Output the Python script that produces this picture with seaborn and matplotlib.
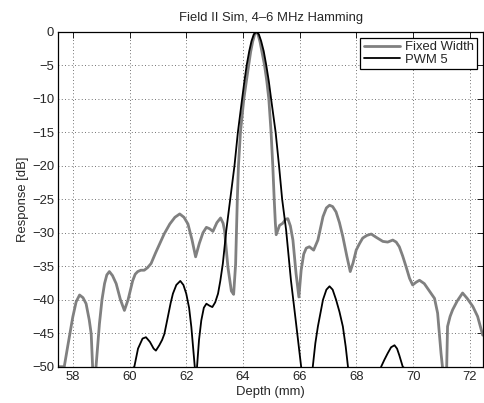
import numpy as np
import pandas as pd
import matplotlib
matplotlib.use("Agg")
import matplotlib.pyplot as plt
import seaborn as sns

# ---- data ----
fixed_depth = [57.50, 57.70, 57.82, 58.00, 58.12, 58.24, 58.36, 58.47, 58.58, 58.65, 58.70, 58.76, 58.82,
               58.94, 59.03, 59.12, 59.20, 59.29, 59.40, 59.53, 59.68, 59.82, 59.95, 60.11, 60.20,
               60.29, 60.40, 60.52, 60.64, 60.76, 60.92, 61.06, 61.22, 61.42, 61.60, 61.77, 61.92,
               62.06, 62.20, 62.33, 62.46, 62.59, 62.71, 62.82, 62.94, 63.08, 63.21, 63.30, 63.35,
               63.47, 63.59, 63.67, 63.74, 63.77, 63.80, 63.84, 63.91, 64.03, 64.12, 64.20, 64.27,
               64.34, 64.41, 64.47, 64.53, 64.60, 64.67, 64.76, 64.84, 64.91, 64.99, 65.05, 65.10,
               65.14, 65.17, 65.29, 65.40, 65.50, 65.58,
               65.67, 65.76, 65.87, 65.97, 66.05, 66.14, 66.23, 66.34, 66.49, 66.64, 66.82, 66.94,
               67.05, 67.16, 67.28, 67.40, 67.52, 67.66, 67.78, 67.88, 67.99, 68.11, 68.22, 68.37,
               68.52, 68.70, 68.93, 69.10, 69.28, 69.40, 69.51, 69.63, 69.75, 69.87, 69.98, 70.10,
               70.22, 70.39, 70.57, 70.75, 70.86, 70.98, 71.03, 71.10, 71.18, 71.21, 71.30, 71.39,
               71.55, 71.74, 71.90, 72.10, 72.27, 72.45]
fixed_db = [-50, -50, -47.0, -42.6, -40.3, -39.3, -39.7, -40.6, -43.0, -45.1, -50, -56, -50,
            -43.6, -40.0, -37.6, -36.3, -35.8, -36.4, -37.6, -40.0, -41.6, -40.0, -37.2, -36.2,
            -35.8, -35.6, -35.6, -35.2, -34.6, -33.0, -31.7, -30.2, -28.7, -27.7, -27.2, -27.7,
            -28.7, -31.0, -33.6, -31.6, -30.0, -29.2, -29.4, -29.8, -28.5, -27.8, -28.6, -29.7,
            -35.2, -38.7, -39.2, -34.7, -30.0, -25.0, -20.0, -15.0, -10.0, -7.3, -5.0, -3.0,
            -1.5, -0.4, 0.0, -0.4, -1.5, -3.0, -5.0, -7.4, -10.0, -15.0, -20.0, -25.0,
            -28.5, -30.3, -28.9, -28.6, -28.0, -27.9,
            -29.0, -31.1, -36.1, -39.6, -35.6, -33.2, -32.3, -32.1, -32.6, -31.1, -27.6, -26.3,
            -25.9, -26.1, -26.9, -28.5, -30.6, -33.5, -35.8, -34.5, -32.6, -31.6, -30.8, -30.4,
            -30.2, -30.7, -31.3, -31.4, -31.1, -31.4, -32.1, -33.5, -35.1, -36.8, -37.8, -37.4,
            -37.1, -37.6, -38.7, -39.8, -42.0, -48.0, -50, -56, -50, -44.0, -42.5, -41.5,
            -40.2, -39.0, -39.8, -41.0, -42.5, -45.3]

pwm_depth = [57.50, 60.17, 60.30, 60.46, 60.58, 60.72, 60.85, 60.93, 61.05, 61.15, 61.23, 61.35,
             61.45, 61.53, 61.65, 61.79, 61.90, 62.00, 62.10, 62.18, 62.30, 62.34, 62.38, 62.45,
             62.53, 62.62, 62.71, 62.82, 62.92, 63.02, 63.12, 63.20, 63.29, 63.41, 63.55, 63.70,
             63.82, 63.97, 64.05, 64.13, 64.22, 64.30, 64.38, 64.47, 64.56, 64.64, 64.73, 64.82,
             64.91, 64.99, 65.15, 65.27, 65.38, 65.52,
             65.69, 65.87, 66.05, 66.25, 66.46, 66.55, 66.64, 66.82, 66.94, 67.05, 67.16, 67.28,
             67.40, 67.52, 67.62, 67.70, 68.30, 68.87, 68.98, 69.10, 69.22, 69.34, 69.43, 69.51,
             69.63, 72.45]
pwm_db = [-60, -50, -47.3, -45.8, -45.6, -46.3, -47.3, -47.6, -46.8, -46.0, -45.1, -42.6,
          -40.5, -39.1, -37.8, -37.2, -37.8, -39.1, -41.2, -44.1, -50, -60, -50, -46.0,
          -43.1, -41.2, -40.6, -40.9, -41.1, -40.4, -39.1, -37.2, -34.6, -29.7, -25.0, -20.0,
          -15.0, -10.0, -7.4, -5.0, -2.9, -1.4, -0.4, 0.0, -0.4, -1.4, -2.9, -5.0,
          -7.4, -10.0, -15.0, -20.0, -25.0, -29.6,
          -37.1, -43.5, -50, -60, -50, -46.5, -44.0, -40.0, -38.5, -38.0, -38.5, -40.0,
          -41.8, -44.0, -47.0, -50, -60, -50, -49.0, -48.0, -47.1, -46.8, -47.3, -48.3,
          -50, -60]

series_names = ["Fixed Width", "PWM 5"]
x_ticks = [58, 60, 62, 64, 66, 68, 70, 72]
y_ticks = [0, -5, -10, -15, -20, -25, -30, -35, -40, -45, -50]

df = pd.concat([
    pd.DataFrame({"Depth": fixed_depth, "dB": fixed_db, "Series": series_names[0]}),
    pd.DataFrame({"Depth": pwm_depth, "dB": pwm_db, "Series": series_names[1]}),
], ignore_index=True)

sns.set_style("white")
plt.rcParams["font.family"] = ["Liberation Sans", "DejaVu Sans"]
FS = 9.4
plt.rcParams["font.size"] = FS

fig = plt.figure(figsize=(4.85, 4.03), dpi=100)
ax = fig.add_axes([0.1202, 0.0901, 0.8757, 0.8312])

palette = {"Fixed Width": "#808080", "PWM 5": "#000000"}
sns.lineplot(data=df, x="Depth", y="dB", hue="Series", hue_order=series_names,
             palette=palette, estimator=None, sort=False, ax=ax, legend=False)
lines = ax.get_lines()
lines[0].set_linewidth(2.0)
lines[1].set_linewidth(1.3)
for ln in lines:
    ln.set_solid_joinstyle("round")

ax.set_xlim(57.49, 72.46)
ax.set_ylim(-50, 0)
ax.set_xticks(x_ticks)
ax.set_yticks(y_ticks)
ax.grid(True, linestyle=(0, (1, 3)), color="#444444", linewidth=0.6)
ax.tick_params(direction="in", top=True, right=True, length=4, width=0.6,
               labelsize=FS, pad=3, color="black")
for s in ax.spines.values():
    s.set_color("black")
    s.set_linewidth(0.9)
    s.set_zorder(3)

ax.set_xlabel("Depth (mm)", fontsize=FS, labelpad=2.5)
ax.set_ylabel("Response [dB]", fontsize=FS, labelpad=2)
ax.set_title("Field II Sim, 4\u20136 MHz Hamming", fontsize=FS, pad=7.5)

leg = ax.legend(lines, series_names, loc="upper right", bbox_to_anchor=(0.986, 0.982),
                borderaxespad=0, frameon=True, fancybox=False, edgecolor="black",
                framealpha=1, fontsize=FS, handlelength=2.8, handletextpad=0.35,
                labelspacing=0.05, borderpad=0.25)
leg.get_frame().set_linewidth(0.9)

fig.savefig("out.png", dpi=100)
